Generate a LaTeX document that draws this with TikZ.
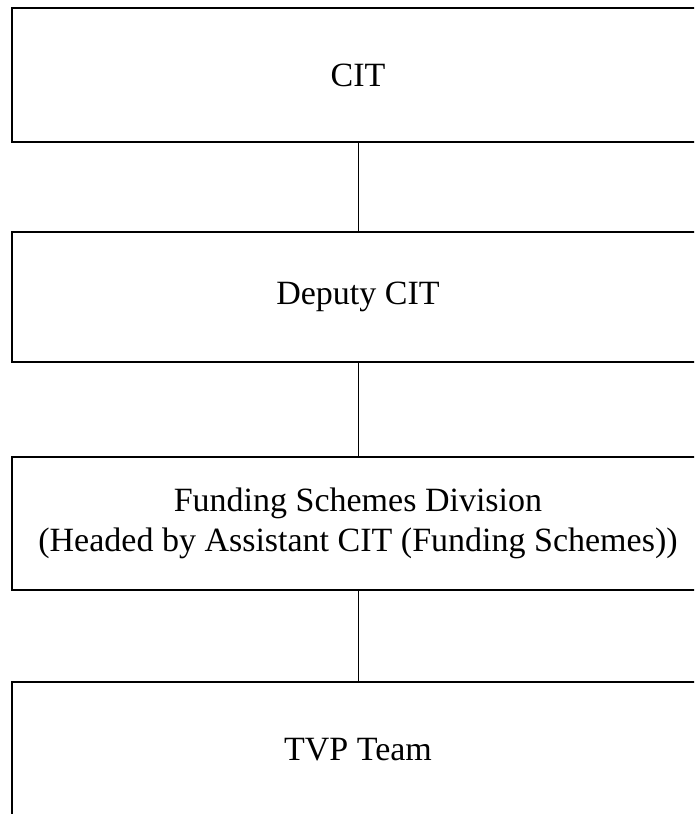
\documentclass[tikz,border=0pt]{standalone}
\usepackage{fontspec}
\setmainfont{Liberation Serif}
\begin{document}
\begin{tikzpicture}[x=1pt,y=-1pt,
  orgbox/.style={draw=black, line width=2pt, rectangle, minimum width=692pt, inner sep=0pt, outer sep=0pt, align=center, font=\fontsize{34}{40}\selectfont},
  link/.style={draw=black, line width=1pt}]
\useasboundingbox (0,0) rectangle (694,814);
\clip (0,0) rectangle (694,814);
\node[orgbox, minimum height=134pt] (cit) at (358,75) {CIT};
\node[orgbox, minimum height=130pt] (dep) at (358,297) {\raisebox{-3pt}{Deputy CIT}};
\node[orgbox, minimum height=133pt] (fsd) at (358,523.5) {\raisebox{-4pt}{Funding Schemes Division}\\\raisebox{-4pt}{(Headed by Assistant CIT (Funding Schemes))}};
\node[orgbox, minimum height=136pt] (tvp) at (358,750) {TVP Team};
\draw[link] (cit.south) -- (dep.north);
\draw[link] (dep.south) -- (fsd.north);
\draw[link] (fsd.south) -- (tvp.north);
\end{tikzpicture}
\end{document}
